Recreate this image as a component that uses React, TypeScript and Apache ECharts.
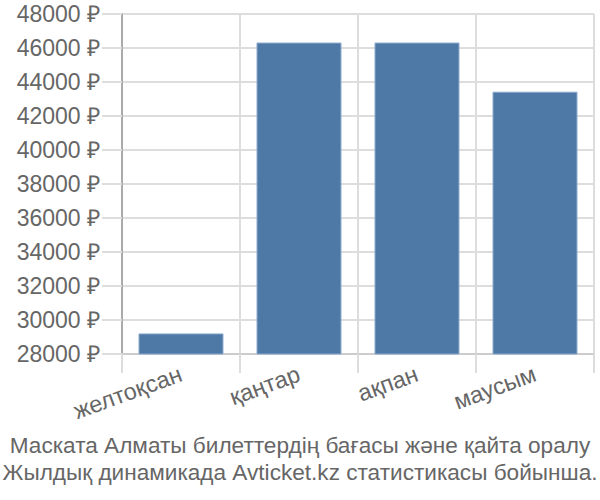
import { useEffect, useRef } from 'react';
import * as echarts from 'echarts';

const months = ['желтоқсан', 'қаңтар', 'ақпан', 'маусым'];
const prices = [29210, 46320, 46320, 43430];
const titleLines = [
  'Маската Алматы билеттердің бағасы және қайта оралу',
  'Жылдық динамикада Avticket.kz статистикасы бойынша.',
];

export default function App() {
  const chartRef = useRef<HTMLDivElement>(null);

  useEffect(() => {
    if (!chartRef.current) return;
    const chart = echarts.init(chartRef.current, null, { renderer: 'svg' });
    chart.setOption({
      animation: false,
      textStyle: { fontFamily: 'Liberation Sans, Arial, sans-serif' },
      title: {
        text: titleLines.join('\n'),
        left: 'center',
        top: 432,
        padding: 0,
        textStyle: { fontSize: 22.6, fontWeight: 'normal', color: '#666', lineHeight: 27 },
      },
      grid: { left: 122, right: 6, top: 14, bottom: 146 },
      xAxis: {
        type: 'category',
        data: months,
        axisLine: { show: true, lineStyle: { color: '#ccc', width: 2 } },
        axisTick: { show: true, length: 19, lineStyle: { color: '#ddd', width: 2 } },
        splitLine: { show: true, lineStyle: { color: '#ddd', width: 2 } },
        axisLabel: { rotate: 20, fontSize: 23.5, color: '#666', margin: 19 },
      },
      yAxis: {
        type: 'value',
        min: 28000,
        max: 48000,
        interval: 2000,
        axisLine: { show: true, lineStyle: { color: '#aaa', width: 2 } },
        axisTick: { show: true, length: 20, lineStyle: { color: '#ddd', width: 2 } },
        splitLine: { lineStyle: { color: '#ddd', width: 2 } },
        axisLabel: { fontSize: 23, color: '#666', margin: 22, formatter: (v: number) => `${v} ₽` },
      },
      series: [
        {
          type: 'bar',
          data: prices,
          barWidth: '72%',
          itemStyle: { color: '#4e79a7', borderColor: '#8aa8cc', borderWidth: 1 },
        },
      ],
    });
    return () => chart.dispose();
  }, []);

  return (
    <div
      ref={chartRef}
      style={{ position: 'absolute', left: 0, top: 0, width: 600, height: 500 }}
    />
  );
}
